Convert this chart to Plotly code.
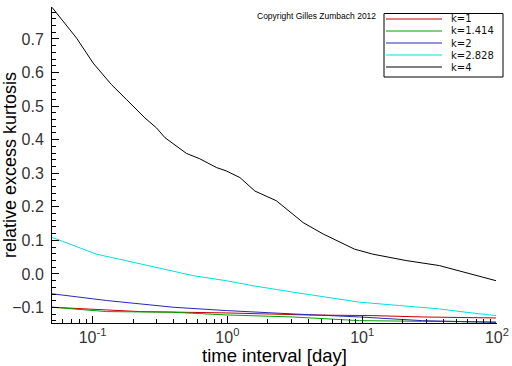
import plotly.graph_objects as go

x_k4 = [0.05, 0.0762, 0.101, 0.138, 0.179, 0.244, 0.298, 0.344, 0.497, 0.624, 0.83, 0.98, 1.24, 1.6, 2.31, 3.65, 5.14, 8.77, 12.0, 21.2, 37.4, 62.4, 98.4]
y_k4 = [0.794, 0.702, 0.628, 0.564, 0.519, 0.465, 0.435, 0.406, 0.359, 0.343, 0.317, 0.307, 0.287, 0.247, 0.218, 0.153, 0.119, 0.074, 0.059, 0.040, 0.025, 0.0, -0.02]

x_k2828 = [0.05, 0.072, 0.107, 0.2, 0.374, 0.557, 0.98, 1.55, 3.06, 5.42, 9.56, 18.9, 37.4, 59.0, 98.4]
y_k2828 = [0.109, 0.084, 0.059, 0.035, 0.010, -0.005, -0.02, -0.035, -0.054, -0.069, -0.084, -0.094, -0.104, -0.114, -0.124]

x_k2 = [0.05, 0.127, 0.396, 0.98, 3.06, 9.56, 28.0, 98.4]
y_k2 = [-0.059, -0.079, -0.099, -0.109, -0.119, -0.128, -0.139, -0.144]

x_k1 = [0.05, 0.224, 0.98, 3.86, 12.0, 28.0, 98.4]
y_k1 = [-0.099, -0.112, -0.116, -0.122, -0.124, -0.128, -0.131]

x_k1414 = [0.05, 0.127, 0.396, 0.98, 3.06, 9.56, 28.0, 98.4]
y_k1414 = [-0.099, -0.112, -0.114, -0.122, -0.128, -0.139, -0.141, -0.143]

x_tickvals = [0.1, 1, 10, 100]
x_ticktext = ["10<sup>-1</sup>", "10<sup>0</sup>", "10<sup>1</sup>", "10<sup>2</sup>"]

series = [
    ("k=1", x_k1, y_k1, "#c00000"),
    ("k=1.414", x_k1414, y_k1414, "#00a000"),
    ("k=2", x_k2, y_k2, "#2828b4"),
    ("k=2.828", x_k2828, y_k2828, "#00e0e0"),
    ("k=4", x_k4, y_k4, "#000000"),
]

W, H = 512, 366
ML, MR, MT, MB = 52, 15, 7, 43
PW, PH = W - ML - MR, H - MT - MB


def px2x(px):
    return (px - ML) / PW


def py2y(py):
    return (H - MB - py) / PH


fig = go.Figure()
for name, xs, ys, col in series:
    fig.add_trace(go.Scatter(x=xs, y=ys, mode="lines", name=name,
                             line=dict(color=col, width=1), showlegend=False))

# custom legend box (layout decoration)
shapes = [dict(type="rect", xref="paper", yref="paper",
               x0=px2x(384), x1=px2x(503), y0=py2y(77), y1=py2y(13.5),
               line=dict(color="black", width=1), fillcolor="white", layer="above")]
annotations = [dict(text="Copyright Gilles Zumbach 2012", x=px2x(378), y=py2y(16),
                    xref="paper", yref="paper", xanchor="right", yanchor="middle",
                    showarrow=False, font=dict(size=8.5, color="black"))]
row_y = [19, 31, 43, 55, 67]
for (name, xs, ys, col), ry in zip(series, row_y):
    shapes.append(dict(type="line", xref="paper", yref="paper",
                       x0=px2x(386), x1=px2x(442), y0=py2y(ry), y1=py2y(ry),
                       line=dict(color=col, width=1), layer="above"))
    annotations.append(dict(text=name, x=px2x(449), y=py2y(ry), xref="paper", yref="paper",
                            xanchor="left", yanchor="middle", showarrow=False,
                            font=dict(size=10, family="DejaVu Sans", color="#111")))

fig.update_layout(
    width=W, height=H,
    margin=dict(l=ML, r=MR, t=MT, b=MB),
    paper_bgcolor="white", plot_bgcolor="white",
    font=dict(family="Liberation Sans, Arial, sans-serif", color="#333"),
    showlegend=False,
    shapes=shapes,
    annotations=annotations,
)
fig.update_xaxes(
    type="log", range=[-1.301, 2.0005], tickmode="array",
    tickvals=x_tickvals, ticktext=x_ticktext,
    showgrid=False, zeroline=False, showline=True, linecolor="black", linewidth=1,
    ticks="inside", ticklen=7, tickcolor="black", tickfont=dict(size=16, color="#333"),
    minor=dict(ticks="inside", ticklen=4, tickcolor="black", dtick="D1", showgrid=False),
    title=dict(text="time interval [day]", font=dict(size=18.5, color="black"), standoff=0),
    automargin=False,
)
fig.update_yaxes(
    range=[-0.146, 0.795], dtick=0.1, tickformat=".1f",
    showgrid=False, zeroline=False, showline=True, linecolor="black", linewidth=1,
    ticks="inside", ticklen=7, tickcolor="black", tickfont=dict(size=16, color="#333"),
    ticklabelstandoff=4,
    minor=dict(ticks="inside", ticklen=4, tickcolor="black", dtick=0.02, showgrid=False),
    title=dict(text="relative excess kurtosis", font=dict(size=18, color="black"), standoff=0),
    automargin=False,
)

fig.write_html("out.html", config={"displayModeBar": False},
               post_script="document.body.style.margin='0';")
